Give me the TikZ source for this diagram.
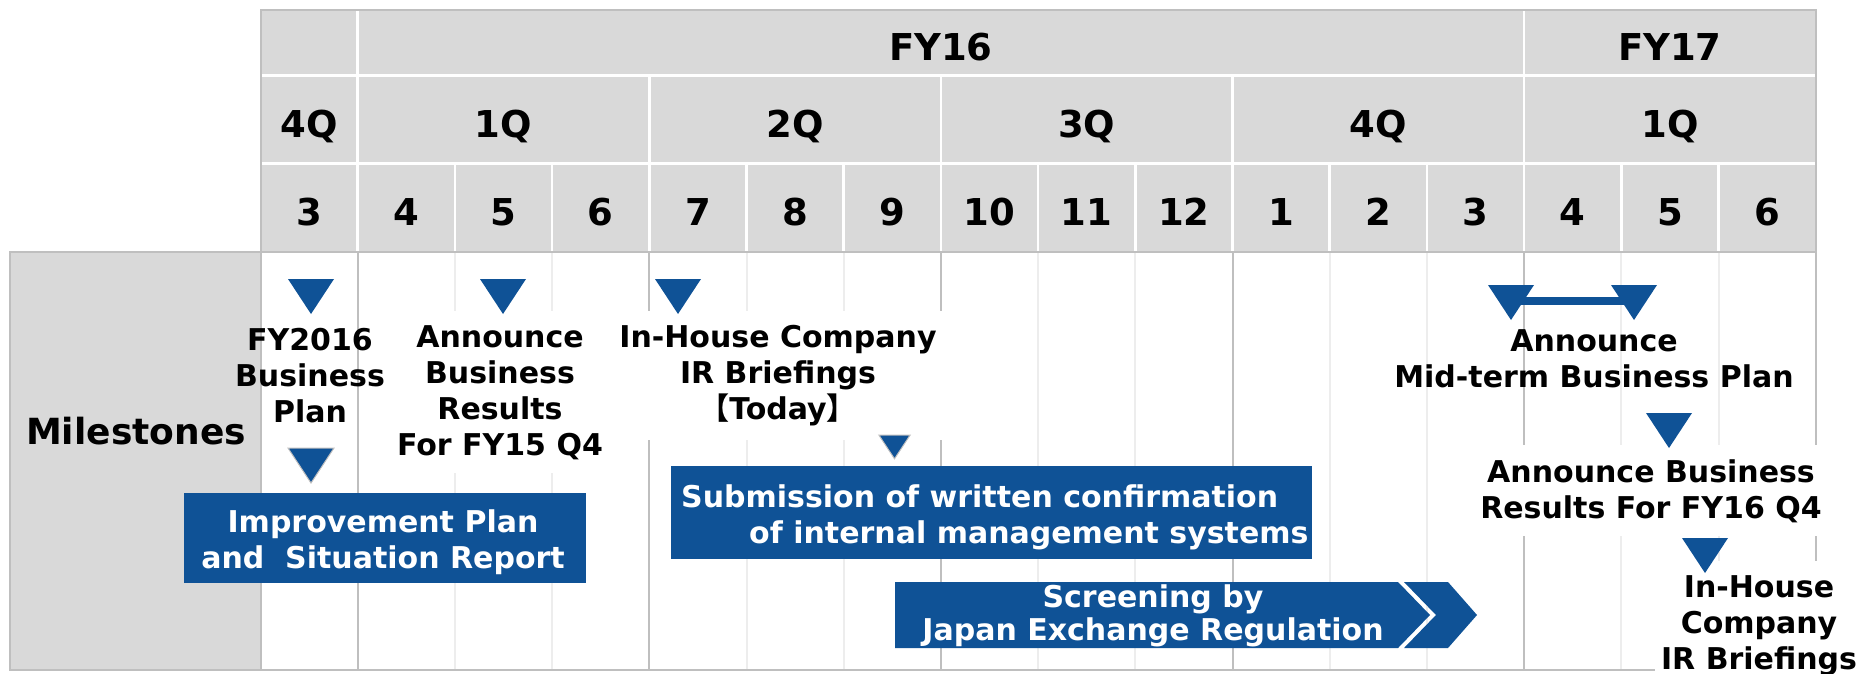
\documentclass[tikz,border=0pt]{standalone}
\usepackage{fontspec}
\setmainfont{DejaVu Sans}
\newfontfamily\cjkfont{Noto Sans CJK JP}
\definecolor{hdrgray}{HTML}{D9D9D9}
\definecolor{bordgray}{HTML}{BFBFBF}
\definecolor{gridgray}{HTML}{EDEDED}
\definecolor{navy}{RGB}{15,82,150}
\begin{document}
\begin{tikzpicture}[x=1pt,y=-1pt,
  hlbl/.style={font=\fontsize{37}{44}\selectfont\bfseries, inner sep=0pt, anchor=base},
  lbl/.style={font=\fontsize{30}{36}\selectfont\bfseries, align=center, inner sep=0pt, anchor=north},
  wlbl/.style={lbl, fill=white, inner xsep=6pt, inner ysep=14pt},
  wtext/.style={font=\fontsize{30}{36}\selectfont\bfseries, text=white, inner sep=0pt},
  bluebox/.style={fill=navy, inner sep=0pt, anchor=north west},
  hsep/.style={white, line width=2.5pt},
  qline/.style={bordgray, line width=2pt},
  mline/.style={gridgray, line width=2pt},
  tri/.pic={\path[fill=navy, pic actions] (-23,0) -- (23,0) -- (0,35) -- cycle;
            \coordinate (-mid) at (0,16);},
]
\useasboundingbox (0,0) rectangle (1864,673);
\def\xa{260.5}
\def\cw{97.2}
% ---------- header ----------
\fill[hdrgray] (\xa,10) rectangle (1815.7,251);
\foreach \k in {1,13} \draw[hsep] ({\xa+\cw*\k},10) -- ({\xa+\cw*\k},75.5);
\foreach \k in {1,4,7,10,13} \draw[hsep] ({\xa+\cw*\k},75.5) -- ({\xa+\cw*\k},163.5);
\foreach \k in {1,...,15} \draw[hsep] ({\xa+\cw*\k},163.5) -- ({\xa+\cw*\k},251);
\draw[hsep] (\xa,75.5) -- (1815.7,75.5);
\draw[hsep] (\xa,163.5) -- (1815.7,163.5);
\draw[qline] (\xa,251.5) -- (\xa,10) -- (1815.7,10) -- (1815.7,251.5);
% ---------- body grid ----------
\foreach \k in {2,3,5,6,8,9,11,12,14,15} \draw[mline] ({\xa+\cw*\k},252) -- ({\xa+\cw*\k},670);
\foreach \k in {1,4,7,10,13,16} \draw[qline] ({\xa+\cw*\k},252) -- ({\xa+\cw*\k},670);
\draw[qline] (10,670) -- (1815.7,670);
\draw[qline] (\xa,251.5) -- (1815.7,251.5);
\draw[qline, fill=hdrgray] (10,252) rectangle (\xa,670);
% ---------- header labels ----------
\node[hlbl] (fy16) at ({\xa+\cw*7},60) {FY16};
\node[hlbl] (fy17) at ({\xa+\cw*14.5},60) {FY17};
\foreach \q/\c [count=\i] in {4Q/0.5,1Q/2.5,2Q/5.5,3Q/8.5,4Q/11.5,1Q/14.5}
  \node[hlbl] (q\i) at ({\xa+\cw*\c},137) {\q};
\foreach \m [count=\i from 0] in {3,4,5,6,7,8,9,10,11,12,1,2,3,4,5,6}
  \node[hlbl] (mon\i) at ({\xa+\cw*(\i+0.5)},225) {\m};
\node[font=\fontsize{36}{43}\selectfont\bfseries, anchor=base, inner sep=0pt] (ms) at (136,444) {Milestones};
% ---------- milestone labels ----------
\node[lbl] (lA) at (310,328) {FY2016\\Business\\Plan};
\node[wlbl] (lB) at (500,311) {Announce\\Business\\Results\\For FY15 Q4};
\node[wlbl] (lC) at (778,311) {In-House Company\\IR Briefings\\{\cjkfont 【}Today{\cjkfont 】}};
\node[lbl] (lD) at (1594,329) {Announce\\Mid-term Business Plan};
\node[wlbl] (lE) at (1651,445) {Announce Business\\Results For FY16 Q4};
\node[wlbl] (lF) at (1759,561) {In-House\\Company\\IR Briefings};
% ---------- bars ----------
\node[bluebox, minimum width=402pt, minimum height=90pt] (imp) at (184,493) {};
\node[wtext, align=center, anchor=north] (impT) at (383,509) {Improvement Plan\\and~~Situation Report};
\node[bluebox, minimum width=641pt, minimum height=93pt] (subm) at (671,466) {};
\node[wtext, align=left, anchor=north west] (submT) at (681,484.2) {Submission of written confirmation\\\hspace*{68pt}of internal management systems};
\fill[navy] (895,582) -- (1398,582) -- (1430,615) -- (1398,648) -- (895,648) -- cycle;
\fill[navy] (1404,582) -- (1448,582) -- (1477,615) -- (1448,648) -- (1404,648) -- (1436,615) -- cycle;
\node[wtext, align=center, anchor=north, font=\fontsize{30}{33}\selectfont\bfseries] (scrT) at (1153,584.2) {Screening by\\Japan Exchange Regulation};
% ---------- markers ----------
\pic (tA) at (311,279) {tri};
\pic (tB) at (503,279) {tri};
\pic (tC) at (678,279) {tri};
\pic[draw=bordgray, line width=1pt] (tD) at (311,448) {tri};
\pic[scale=0.68, draw=bordgray, line width=1pt] (tE) at (894.5,435) {tri};
\pic (tM1) at (1511,285) {tri};
\pic (tM2) at (1634,285) {tri};
\draw[navy, line width=8pt] (tM1-mid) -- (tM2-mid);
\pic (tF) at (1669,413) {tri};
\pic (tG) at (1705,538) {tri};
\end{tikzpicture}
\end{document}
